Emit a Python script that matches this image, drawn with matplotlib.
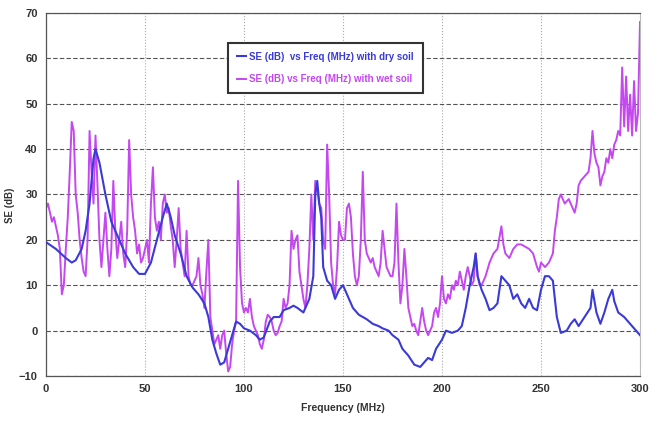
import numpy as np
import matplotlib
matplotlib.use("Agg")
import matplotlib.pyplot as plt

plt.rcParams['font.family'] = ['Liberation Sans', 'DejaVu Sans']

# Dry soil (blue)
dry_freq = [0, 5, 10, 13, 15, 18, 20, 22, 24, 25, 27, 30, 33, 36, 40, 44, 47, 50, 53, 56, 59, 61, 63, 65, 68,
            71, 74, 77, 80, 82, 84, 86, 88, 90, 92, 94, 96, 98, 100, 103, 106, 108, 110, 113, 115, 118, 120,
            123, 125, 127, 130, 133, 135, 136, 137, 138, 139, 140, 142, 144, 146, 148, 150, 152, 155, 158,
            162, 165, 168, 170, 173, 175, 178, 180, 183, 186, 189, 191, 193, 195, 197, 200, 202, 205, 208,
            210, 212, 214, 216, 217, 218, 220, 222, 224, 226, 228, 230, 232, 234, 236, 238, 240, 242, 244,
            246, 248, 250, 252, 254, 256, 258, 260, 263, 265, 267, 269, 272, 275, 276, 278, 280, 282, 284,
            286, 287, 289, 292, 295, 297, 300]
dry_se = [19.5, 18, 16, 15, 15.5, 18, 22, 28, 38, 40, 37, 30, 24, 21, 17, 14, 12.5, 12.5, 15, 20, 25, 28, 25, 21, 17,
          12, 9.5, 8, 6, 3, -2, -5, -7.5, -7, -4, -1, 2, 1.5, 0.5, 0, -1, -2, -1.5, 2, 3, 3, 4.5,
          5, 5.5, 5, 4, 7, 12, 30, 33, 28, 25, 14, 11, 10, 7, 9, 10, 8, 5, 3.5,
          2.5, 1.5, 1, 0.5, 0, -1, -2, -4, -5.5, -7.5, -8, -7, -6, -6.5, -4, -2, 0, -0.5, 0,
          1, 5, 10, 14, 17, 12, 9, 7, 4.5, 5, 6, 12, 11, 10, 7, 8, 6, 5, 7,
          5, 4.5, 9, 12, 12, 11, 3, -0.5, 0, 1.5, 2.5, 1, 3, 5, 9, 4, 1.5, 4, 7,
          9, 6.5, 4, 3, 1.5, 0.5, -1]

# Wet soil (magenta)
wet_freq = list(range(0, 221)) + [222, 224, 226, 228, 230, 231, 232, 234, 236, 238, 240, 242, 244, 246, 248,
                                  249, 250, 252, 254, 256, 257, 258, 259, 260, 262, 264, 266, 267, 268, 269,
                                  270, 272, 274, 275, 276, 277, 278, 279, 280, 281, 282, 283, 284, 285, 286,
                                  287, 288, 289, 290, 291, 292, 293, 294, 295, 296, 297, 298, 299, 300]
wet_se = [27, 28, 26, 24, 25, 23, 21, 18, 8, 10, 18, 25, 35, 46, 44, 30, 26, 20, 16, 13,
          12, 20, 44, 35, 28, 43, 32, 20, 14, 20, 26, 18, 12, 18, 33, 22, 16, 20, 24, 17,
          14, 22, 42, 30, 25, 22, 17, 19, 15, 16, 18, 20, 15, 28, 36, 25, 22, 24, 20, 28,
          30, 26, 27, 23, 20, 14, 20, 27, 18, 15, 12, 22, 12, 10, 10, 11, 12, 16, 10, 8,
          5, 13, 20, 3, 0, -3, -2, -1, -4, -1, 0, -5, -9, -8, -3, 0, 2, 33, 14, 6,
          4, 5, 4, 7, 3, 1, 0, -1, -3, -4, -2, 2, 3.5, 3, 2, 0, -1, -0.5, 1, 2,
          7, 5, 6, 10, 22, 18, 20, 21, 13, 10, 7, 5, 10, 18, 30, 20, 33, 31, 28, 27,
          20, 18, 41, 30, 15, 10, 8, 14, 24, 21, 20, 20, 27, 28, 25, 17, 12, 10, 12, 20,
          35, 20, 17, 16, 15, 16, 14, 13, 12, 15, 22, 18, 14, 13, 12, 12, 15, 28, 15, 6,
          10, 18, 12, 5, 3, 1, 1.5, 0, -1, 2, 5, 2, 0, -1, 0, 1, 4, 5, 3, 6,
          12, 7, 6, 8, 7, 10, 9, 11, 10, 13, 11, 9, 12, 14, 12, 10, 11, 17, 12, 10,
          10, 12, 15, 17, 18, 23, 19, 17, 16, 18, 19, 19, 18.5, 18, 17, 14,
          13, 15, 14, 15, 17, 22, 25, 29, 30, 28, 29, 27, 26, 28, 32,
          33, 34, 35, 38, 44, 39, 37, 36, 32, 34, 35, 38, 37, 40, 38,
          41, 42, 44, 43, 58, 45, 56, 44, 52, 43, 55, 44, 48, 68]

x_ticks = [0, 50, 100, 150, 200, 250, 300]
y_ticks = [-10, 0, 10, 20, 30, 40, 50, 60, 70]
labels = ["SE (dB)  vs Freq (MHz) with dry soil", "SE (dB) vs Freq (MHz) with wet soil"]
dry_color = '#3a3ad8'
wet_color = '#c447f0'

fig = plt.figure(figsize=(6.57, 4.32), dpi=100)
ax = fig.add_axes([46/657, 56/432, 594/657, 363/432])

l1, = ax.plot(dry_freq, dry_se, color=dry_color, lw=1.5, zorder=3)
l2, = ax.plot(wet_freq, wet_se, color=wet_color, lw=1.4, zorder=2)

ax.set_xlim(0, 300)
ax.set_ylim(-10, 70)
ax.set_xticks(x_ticks)
ax.set_yticks(y_ticks)
ax.tick_params(length=0, labelsize=8, pad=6)
for lab in ax.get_xticklabels() + ax.get_yticklabels():
    lab.set_fontweight('bold')
    lab.set_color('#333333')

ax.yaxis.grid(True, linestyle=(0, (4, 2)), color='#555555', lw=0.8)
ax.xaxis.grid(True, linestyle=':', color='#aaaaaa', lw=0.8)
ax.set_axisbelow(True)

for s in ['left', 'bottom', 'top']:
    ax.spines[s].set_color('#555555')
    ax.spines[s].set_linewidth(0.9)
ax.spines['right'].set_color('#bbbbbb')

ax.set_xlabel("Frequency (MHz)", fontsize=7.5, fontweight='bold', color='#333333', labelpad=6)
ax.set_ylabel("SE (dB)", fontsize=7, fontweight='bold', color='#333333')
ax.yaxis.set_label_coords(-0.052, 0.47)

leg = ax.legend([l1, l2], labels, loc='upper left', bbox_to_anchor=(182/594, 333/363),
                borderaxespad=0, fancybox=False, framealpha=1, edgecolor='#333333',
                fontsize=7, handlelength=0.9, handletextpad=0.4, borderpad=0.9, labelspacing=1.3)
leg.get_frame().set_linewidth(1.5)
for txt, c in zip(leg.get_texts(), [dry_color, wet_color]):
    txt.set_color(c)
    txt.set_fontweight('bold')

fig.savefig("out.png", dpi=100)
